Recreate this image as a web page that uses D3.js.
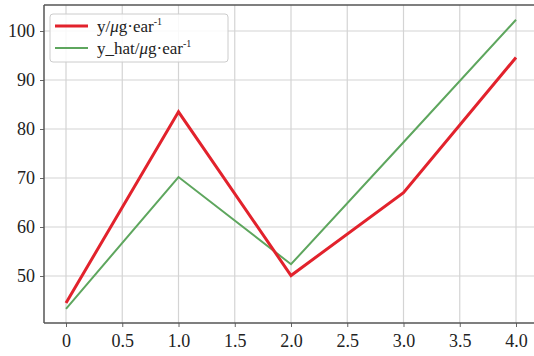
<!DOCTYPE html>
<html><head><meta charset="utf-8">
<script src="https://cdn.jsdelivr.net/npm/d3@7"></script>
<style>body{margin:0;background:#fff} text{font-family:"Liberation Serif","DejaVu Serif",serif !important;}</style>
</head><body>
<svg id="c" width="534" height="356"></svg>
<script>
const xValues = [0, 1, 2, 3, 4];
const yValues = [44.5, 83.5, 50.1, 67.0, 94.6];
const yHatValues = [43.3, 70.2, 52.4, 77.3, 102.3];
const xTicks = [0, 0.5, 1.0, 1.5, 2.0, 2.5, 3.0, 3.5, 4.0];
const xTickLabels = ["0", "0.5", "1.0", "1.5", "2.0", "2.5", "3.0", "3.5", "4.0"];
const yTicks = [50, 60, 70, 80, 90, 100];

const svg = d3.select("#c");
const L = 44, R = 540, T = 5, B = 323;
const x = d3.scaleLinear().domain([0, 4]).range([66, 516]);
const y = d3.scaleLinear().domain([50, 100]).range([276, 31]);
const font = "Liberation Serif";

// grid
svg.append("g").selectAll("line").data(xTicks).join("line")
  .attr("x1", d => x(d)).attr("x2", d => x(d)).attr("y1", T).attr("y2", B)
  .attr("stroke", "#d4d4d4").attr("stroke-width", 1.2);
svg.append("g").selectAll("line").data(yTicks).join("line")
  .attr("x1", L).attr("x2", R).attr("y1", d => y(d)).attr("y2", d => y(d))
  .attr("stroke", "#d4d4d4").attr("stroke-width", 1.2);

// axes
const xAxis = d3.axisBottom(x).tickValues(xTicks).tickFormat((d, i) => xTickLabels[i]).tickSize(4).tickPadding(7);
const yAxis = d3.axisLeft(y).tickValues(yTicks).tickSize(4).tickPadding(5);
const gx = svg.append("g").attr("transform", `translate(0,${B})`).call(xAxis);
const gy = svg.append("g").attr("transform", `translate(${L},0)`).call(yAxis);
[gx, gy].forEach(g => {
  g.attr("font-family", font);
  g.select(".domain").remove();
  g.selectAll(".tick line").attr("stroke", "#666").attr("stroke-width", 1);
  g.selectAll("text").attr("font-family", font).attr("font-size", 18).attr("fill", "#222");
});

// spines
svg.append("line").attr("x1", L).attr("x2", L).attr("y1", T).attr("y2", B).attr("stroke", "#555").attr("stroke-width", 1.5);
svg.append("line").attr("x1", L).attr("x2", R).attr("y1", B).attr("y2", B).attr("stroke", "#555").attr("stroke-width", 1.5);
svg.append("line").attr("x1", L).attr("x2", R).attr("y1", T).attr("y2", T).attr("stroke", "#555").attr("stroke-width", 1.5);

const line = d3.line().x((d, i) => x(xValues[i])).y(d => y(d));
svg.append("path").datum(yHatValues).attr("d", line).attr("fill", "none")
  .attr("stroke", "#5ea65e").attr("stroke-width", 2);
svg.append("path").datum(yValues).attr("d", line).attr("fill", "none")
  .attr("stroke", "#e2222c").attr("stroke-width", 3);

// legend
const lg = svg.append("g");
lg.append("rect").attr("x", 50).attr("y", 14).attr("width", 178).attr("height", 48).attr("rx", 3)
  .attr("fill", "#fff").attr("fill-opacity", 0.85).attr("stroke", "#ccc");
const items = [{c: "#e2222c", w: 3, t: "y"}, {c: "#5ea65e", w: 2, t: "y_hat"}];
items.forEach((it, i) => {
  const yy = 26 + i * 22;
  lg.append("line").attr("x1", 55).attr("x2", 88).attr("y1", yy).attr("y2", yy).attr("stroke", it.c).attr("stroke-width", it.w);
  const t = lg.append("text").attr("x", 97).attr("y", yy + 6).attr("font-family", font).attr("font-size", 17).attr("fill", "#222");
  t.append("tspan").text(it.t + "/");
  t.append("tspan").attr("font-style", "italic").text("μ");
  t.append("tspan").text("g·ear");
  t.append("tspan").attr("font-size", 10).attr("dy", -7).text("-1");
});
</script>
</body></html>
